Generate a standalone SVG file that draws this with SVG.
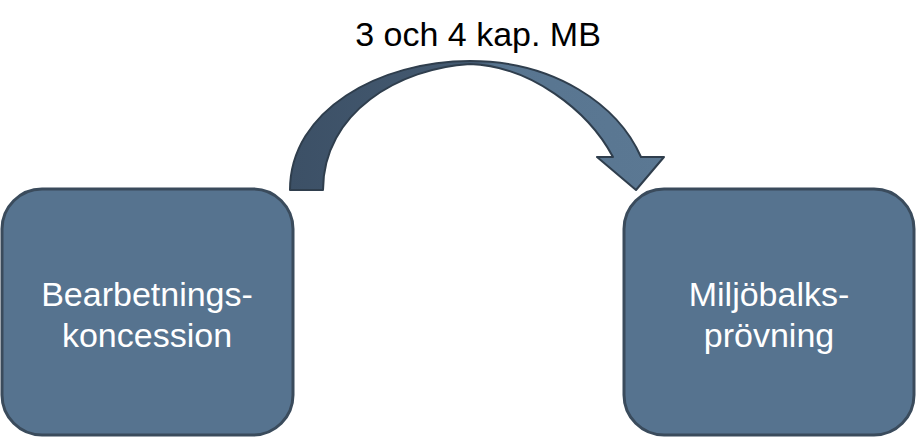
<svg xmlns="http://www.w3.org/2000/svg" width="917" height="439" viewBox="0 0 917 439">
<defs>
<style>
.box{fill:#56738f;stroke:#3a4b5c;stroke-width:3}
.lbl{font-family:"Liberation Sans",Arial,sans-serif;font-size:34px;fill:#ffffff;text-anchor:middle}
.ttl{font-family:"Liberation Sans",Arial,sans-serif;font-size:34px;fill:#000000;text-anchor:middle}
</style>
<linearGradient id="ag" x1="290" y1="0" x2="665" y2="0" gradientUnits="userSpaceOnUse">
<stop offset="0" stop-color="#3c5066"/>
<stop offset="0.5" stop-color="#455b72"/>
<stop offset="0.55" stop-color="#587590"/>
<stop offset="1" stop-color="#5b7893"/>
</linearGradient>
</defs>
<g id="connectors">
<path d="M290,190 C290,110 380,61 470,61 C555,61 618,105 641,157 L664,157 L636,190 L597,157 L613,157 C588,110 530,66 470,64 C400,68 323,112 323,190 Z" fill="url(#ag)" stroke="#2f3e4d" stroke-width="2" stroke-linejoin="round"/>
</g>
<g id="title">
<text class="ttl" x="478" y="46">3 och 4 kap. MB</text>
</g>
<g id="node-bearbetning">
<rect class="box" x="2" y="189" width="291" height="246" rx="40" ry="40"/>
<text class="lbl" x="147" y="306">Bearbetnings-</text>
<text class="lbl" x="147" y="347">koncession</text>
</g>
<g id="node-miljobalk">
<rect class="box" x="624" y="189" width="290" height="246" rx="40" ry="40"/>
<text class="lbl" x="769" y="306">Miljöbalks-</text>
<text class="lbl" x="769" y="347">prövning</text>
</g>
</svg>
